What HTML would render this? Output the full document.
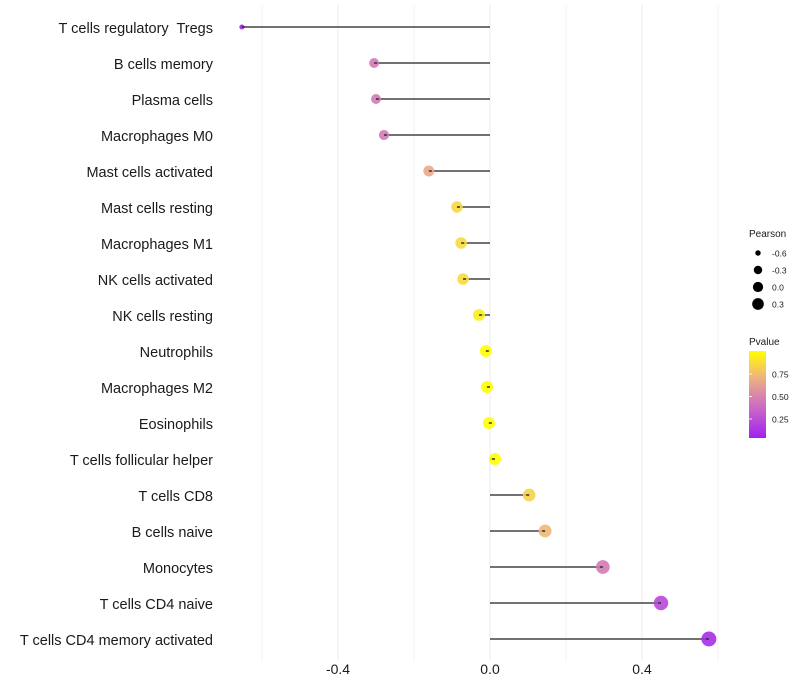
<!DOCTYPE html>
<html><head><meta charset="utf-8"><style>
body{margin:0;background:#fff}
svg{display:block;font-family:"Liberation Sans",sans-serif}
text{white-space:pre}
</style></head><body>
<svg id="chart" width="800" height="700">
<g id="grid"></g>
<g id="marks"></g>
<g id="ylabels"></g>
<g id="xlabels"></g>
<g id="sizeLegend">
<text x="749" y="237" font-size="10" fill="#1a1a1a">Pearson</text>
</g>
<g id="colorLegend">
<text x="749" y="345" font-size="10" fill="#1a1a1a">Pvalue</text>
<defs><linearGradient id="pg" x1="0" y1="1" x2="0" y2="0">
<stop offset="0" stop-color="#a020f0"/><stop offset="0.32" stop-color="#c864c8"/><stop offset="0.5" stop-color="#da88aa"/><stop offset="0.7" stop-color="#efb47c"/><stop offset="1" stop-color="#ffff00"/></linearGradient></defs>
<rect x="749" y="351" width="17" height="87" fill="url(#pg)"/>
</g>
</svg>
<script>
const categories=["T cells regulatory  Tregs","B cells memory","Plasma cells","Macrophages M0","Mast cells activated","Mast cells resting","Macrophages M1","NK cells activated","NK cells resting","Neutrophils","Macrophages M2","Eosinophils","T cells follicular helper","T cells CD8","B cells naive","Monocytes","T cells CD4 naive","T cells CD4 memory activated"];
const pearson=[-0.653,-0.305,-0.300,-0.279,-0.161,-0.087,-0.076,-0.071,-0.029,-0.011,-0.008,-0.003,0.013,0.103,0.145,0.297,0.450,0.576];
const pvalue=[0.05,0.45,0.45,0.45,0.66,0.84,0.85,0.85,0.92,0.99,0.99,0.99,0.99,0.82,0.72,0.45,0.22,0.1];
const xTicks=[-0.4,0.0,0.4];
const xMinor=[-0.6,-0.2,0.2,0.6];
const sizeBreaks=[-0.6,-0.3,0.0,0.3];
const pTicks=[0.25,0.5,0.75];

const NS="http://www.w3.org/2000/svg";
const xs=v=>490+380*v;
const ys=i=>27+36*i;
const rs=v=>2+5.5*Math.sqrt(Math.max(0.01,(v+0.66)/1.24));
const stops=[[0,[160,32,240]],[0.32,[200,100,200]],[0.5,[218,136,170]],[0.7,[239,180,124]],[1,[255,255,0]]];
const pToT=p=>Math.max(0,Math.min(1,(p-0.04)/0.95));
function col(p){const t=pToT(p);for(let k=1;k<stops.length;k++){if(t<=stops[k][0]){const a=stops[k-1],b=stops[k];const f=(t-a[0])/(b[0]-a[0]);return "rgb("+a[1].map((c,j)=>Math.round(c+(b[1][j]-c)*f)).join(",")+")";}}return "rgb(255,255,0)";}
function mk(tag,attrs,parent){const e=document.createElementNS(NS,tag);for(const k in attrs)e.setAttribute(k,attrs[k]);parent.appendChild(e);return e;}
const grid=document.getElementById('grid'),marks=document.getElementById('marks'),yl=document.getElementById('ylabels'),xl=document.getElementById('xlabels');
xMinor.concat(xTicks).forEach(v=>{const l=mk('line',{x1:xs(v),x2:xs(v),y1:5,y2:660,stroke:xTicks.includes(v)?'#ebebeb':'#f2f2f2','stroke-width':1},grid);

});
xTicks.forEach(v=>{const t=mk('text',{x:xs(v),y:674,'font-size':14,'text-anchor':'middle',fill:'#1a1a1a'},xl);t.textContent=v.toFixed(1);

});
categories.forEach((c,i)=>{const t=mk('text',{x:213,y:ys(i)+6,'font-size':14.5,'text-anchor':'end',fill:'#1a1a1a'},yl);t.textContent=c;


const seg=mk('line',{x1:xs(0),x2:xs(pearson[i]),y1:ys(i),y2:ys(i),stroke:'#444','stroke-width':1.5},marks);


const d=mk('circle',{cx:xs(pearson[i]),cy:ys(i),r:rs(pearson[i]),fill:col(pvalue[i]),'fill-opacity':0.9},marks);


const s2=mk('line',{x1:xs(pearson[i])+(pearson[i]<0?1:-1)*3,x2:xs(pearson[i]),y1:ys(i),y2:ys(i),stroke:'#333','stroke-width':1.5},marks);

});
const sl=document.getElementById('sizeLegend');
sizeBreaks.forEach((v,k)=>{const y=253+17*k;const c=mk('circle',{cx:758,cy:y,r:rs(v)*0.85,fill:'#000'},sl);


const t=mk('text',{x:772,y:y+3.5,'font-size':8.5,fill:'#1a1a1a'},sl);t.textContent=v.toFixed(1);

});
const cl=document.getElementById('colorLegend');
pTicks.forEach(p=>{const y=441.5-90*p;
const l=mk('line',{x1:749,x2:752,y1:y,y2:y,stroke:'#fff','stroke-width':0.8},cl);


const t=mk('text',{x:772,y:y+3.5,'font-size':8.5,fill:'#1a1a1a'},cl);t.textContent=p.toFixed(2);

});
</script>
</body></html>
